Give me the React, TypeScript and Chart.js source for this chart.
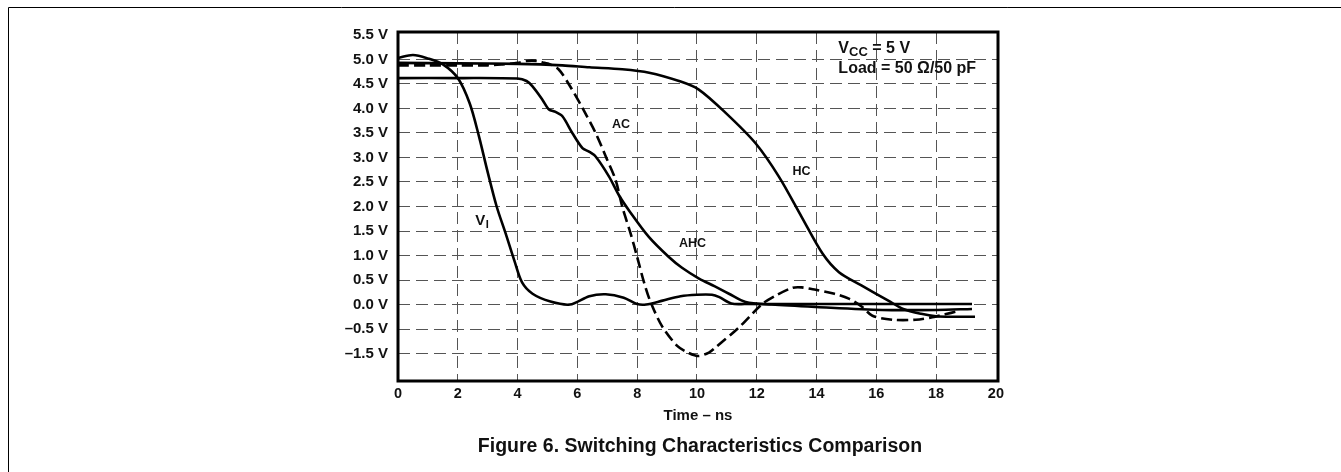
import React, { useEffect, useRef } from "react";
import { Chart, registerables } from "chart.js";

Chart.register(...registerables);

// ---- Axis ticks ----
const xTickValues = [0, 2, 4, 6, 8, 10, 12, 14, 16, 18, 20];
const yTickValues = [-1.0, -0.5, 0.0, 0.5, 1.0, 1.5, 2.0, 2.5, 3.0, 3.5, 4.0, 4.5, 5.0, 5.5];
const yTickLabels = ["–1.5 V", "–0.5 V", "0.0 V", "0.5 V", "1.0 V", "1.5 V", "2.0 V", "2.5 V", "3.0 V", "3.5 V", "4.0 V", "4.5 V", "5.0 V", "5.5 V"];

// ---- Series: V_I (input) ----
const viTime = [0, 0.5, 1.0, 1.5, 2.0, 2.4, 2.7, 3.0, 3.3, 3.6, 3.9, 4.15, 4.5, 5.1, 5.75, 6.4, 6.95, 7.55, 8.0, 8.3, 8.85, 9.45, 10.0, 10.5, 10.75, 11.15, 11.6, 14.0, 17.0, 19.2];
const viVolt = [5.03, 5.09, 5.02, 4.9, 4.62, 4.1, 3.45, 2.7, 2.0, 1.45, 0.88, 0.45, 0.22, 0.06, 0.0, 0.17, 0.21, 0.14, 0.01, 0.0, 0.08, 0.17, 0.2, 0.2, 0.15, 0.02, 0.01, 0.01, 0.01, 0.01];

// ---- Series: HC ----
const hcTime = [0, 2, 4, 5.5, 6.4, 7.5, 8.4, 9.4, 10.05, 10.96, 11.96, 12.74, 13.5, 14.2, 14.75, 15.5, 16.4, 16.9, 17.5, 18.0, 18.6, 19.3];
const hcVolt = [4.93, 4.92, 4.91, 4.88, 4.84, 4.8, 4.73, 4.56, 4.39, 3.91, 3.29, 2.61, 1.79, 1.04, 0.66, 0.39, 0.08, -0.09, -0.19, -0.24, -0.25, -0.25];

// ---- Series: AHC ----
const ahcTime = [0, 2, 4.0, 4.3, 4.5, 4.83, 5.05, 5.27, 5.5, 5.83, 6.17, 6.39, 6.61, 7.06, 7.39, 7.75, 8.39, 9.06, 9.5, 10.07, 10.6, 11.07, 11.63, 12.5, 14.0, 16.2, 18.0, 19.2];
const ahcVolt = [4.62, 4.62, 4.61, 4.56, 4.45, 4.18, 3.98, 3.93, 3.84, 3.5, 3.19, 3.12, 3.02, 2.61, 2.23, 1.9, 1.38, 0.97, 0.75, 0.53, 0.37, 0.22, 0.05, 0.0, -0.05, -0.11, -0.11, -0.09];

// ---- Series: AC (dashed) ----
const acTime = [0, 1, 2, 3, 3.5, 4.0, 4.3, 4.65, 4.9, 5.05, 5.37, 5.72, 6.17, 6.61, 6.95, 7.28, 7.5, 7.78, 8.0, 8.23, 8.45, 8.84, 9.35, 9.7, 10.05, 10.4, 10.63, 11.4, 12.18, 12.63, 13.19, 13.5, 13.97, 14.6, 15.08, 15.53, 15.87, 16.54, 17.32, 17.87, 18.3, 18.7];
const acVolt = [4.88, 4.88, 4.88, 4.88, 4.9, 4.93, 4.97, 4.97, 4.93, 4.91, 4.8, 4.49, 4.01, 3.5, 3.02, 2.54, 2.0, 1.45, 0.97, 0.45, 0.05, -0.45, -0.85, -0.98, -1.05, -0.98, -0.87, -0.47, 0.01, 0.18, 0.34, 0.35, 0.3, 0.22, 0.12, -0.05, -0.23, -0.31, -0.31, -0.26, -0.2, -0.14];

const FONT = "'Liberation Sans', Arial, Helvetica, sans-serif";

function toPoints(t: number[], v: number[]) {
  return t.map((x, i) => ({ x, y: v[i] }));
}

const framePlugin = {
  id: "frameAndText",
  beforeDraw(chart: any) {
    const ctx = chart.ctx;
    ctx.save();
    ctx.fillStyle = "#fff";
    ctx.fillRect(0, 0, chart.width, chart.height);
    ctx.strokeStyle = "#000";
    ctx.lineWidth = 1;
    ctx.beginPath();
    ctx.moveTo(8.5, chart.height);
    ctx.lineTo(8.5, 7.5);
    ctx.lineTo(chart.width, 7.5);
    ctx.stroke();
    ctx.restore();
  },
  afterDraw(chart: any) {
    const ctx = chart.ctx;
    const a = chart.chartArea;
    const xs = chart.scales.x;
    const ys = chart.scales.y;
    ctx.save();
    // plot frame
    ctx.strokeStyle = "#000";
    ctx.lineWidth = 3;
    ctx.strokeRect(a.left, a.top, a.right - a.left, a.bottom - a.top);

    ctx.fillStyle = "#111";
    // curve labels
    ctx.font = `bold 12.5px ${FONT}`;
    ctx.textAlign = "center";
    ctx.textBaseline = "middle";
    ctx.fillText("AC", xs.getPixelForValue(7.46), ys.getPixelForValue(3.67));
    ctx.fillText("HC", xs.getPixelForValue(13.5), ys.getPixelForValue(2.72));
    ctx.fillText("AHC", xs.getPixelForValue(9.85), ys.getPixelForValue(1.24));

    // V_I label
    ctx.textAlign = "left";
    ctx.textBaseline = "alphabetic";
    const vx = xs.getPixelForValue(2.58);
    const vy = ys.getPixelForValue(1.62);
    ctx.font = `bold 15px ${FONT}`;
    ctx.fillText("V", vx, vy);
    const vw = ctx.measureText("V").width;
    ctx.font = `bold 11px ${FONT}`;
    ctx.fillText("I", vx + vw + 0.5, vy + 3);

    // VCC / Load annotation
    const ax = xs.getPixelForValue(14.73);
    const ay1 = ys.getPixelForValue(5.13);
    const ay2 = ys.getPixelForValue(4.72);
    ctx.font = `bold 16px ${FONT}`;
    ctx.fillText("V", ax, ay1);
    let w = ctx.measureText("V").width;
    ctx.font = `bold 13px ${FONT}`;
    ctx.fillText("CC", ax + w, ay1 + 3);
    w += ctx.measureText("CC").width;
    ctx.font = `bold 16px ${FONT}`;
    ctx.fillText(" = 5 V", ax + w, ay1);
    ctx.fillText("Load = 50 Ω/50 pF", ax, ay2);

    // caption
    ctx.textAlign = "center";
    ctx.textBaseline = "middle";
    ctx.font = `bold 19.5px ${FONT}`;
    ctx.fillText("Figure 6. Switching Characteristics Comparison", 700, 447);
    ctx.restore();
  },
};

export default function App() {
  const canvasRef = useRef<HTMLCanvasElement | null>(null);

  useEffect(() => {
    if (!canvasRef.current) return;
    const lineStyle = {
      borderColor: "#000",
      borderWidth: 2.6,
      pointRadius: 0,
      fill: false,
      tension: 0.3,
    };
    const gridColorX = (c: any) =>
      c.tick && (c.tick.value === 0 || c.tick.value === 20) ? "rgba(0,0,0,0)" : "#555";
    const gridColorY = (c: any) =>
      c.tick && c.tick.value === 5.5 ? "rgba(0,0,0,0)" : "#555";

    const chart = new Chart(canvasRef.current, {
      type: "line",
      data: {
        datasets: [
          { label: "VI", data: toPoints(viTime, viVolt), ...lineStyle },
          { label: "HC", data: toPoints(hcTime, hcVolt), ...lineStyle },
          { label: "AHC", data: toPoints(ahcTime, ahcVolt), ...lineStyle },
          { label: "AC", data: toPoints(acTime, acVolt), ...lineStyle, borderDash: [11, 5] },
        ],
      },
      options: {
        animation: false,
        responsive: false,
        devicePixelRatio: 1,
        layout: { padding: { left: 0, top: 32, right: 343, bottom: 0 } },
        plugins: {
          legend: { display: false },
          tooltip: { enabled: false },
        },
        scales: {
          x: {
            type: "linear",
            min: 0,
            max: 20.07,
            afterBuildTicks: (s: any) => {
              s.ticks = xTickValues.map((value) => ({ value }));
            },
            afterFit: (s: any) => {
              s.height = 91;
            },
            ticks: {
              color: "#111",
              padding: 4,
              maxRotation: 0,
              autoSkip: false,
              font: { family: FONT, size: 14.5, weight: "bold" },
              callback: (v: any) => String(v),
            },
            grid: { color: gridColorX, lineWidth: 1, drawTicks: false },
            border: { display: false, dash: [12, 6] },
            title: {
              display: true,
              text: "Time – ns",
              color: "#111",
              font: { family: FONT, size: 15, weight: "bold" },
              padding: { top: 0, bottom: 47 },
            },
          },
          y: {
            type: "linear",
            min: -1.56,
            max: 5.56,
            afterBuildTicks: (s: any) => {
              s.ticks = yTickValues.map((value) => ({ value }));
            },
            afterFit: (s: any) => {
              s.width = 398;
            },
            ticks: {
              color: "#111",
              padding: 10,
              autoSkip: false,
              font: { family: FONT, size: 15, weight: "bold" },
              callback: (v: any) => {
                const i = yTickValues.findIndex((t) => Math.abs(t - Number(v)) < 1e-6);
                return i >= 0 ? yTickLabels[i] : "";
              },
            },
            grid: { color: gridColorY, lineWidth: 1, drawTicks: false },
            border: { display: false, dash: [12, 6] },
          },
        },
      },
      plugins: [framePlugin],
    } as any);
    return () => chart.destroy();
  }, []);

  return (
    <div style={{ position: "fixed", left: 0, top: 0, width: 1341, height: 472, background: "#fff" }}>
      <canvas ref={canvasRef} width={1341} height={472} style={{ display: "block" }} />
    </div>
  );
}
